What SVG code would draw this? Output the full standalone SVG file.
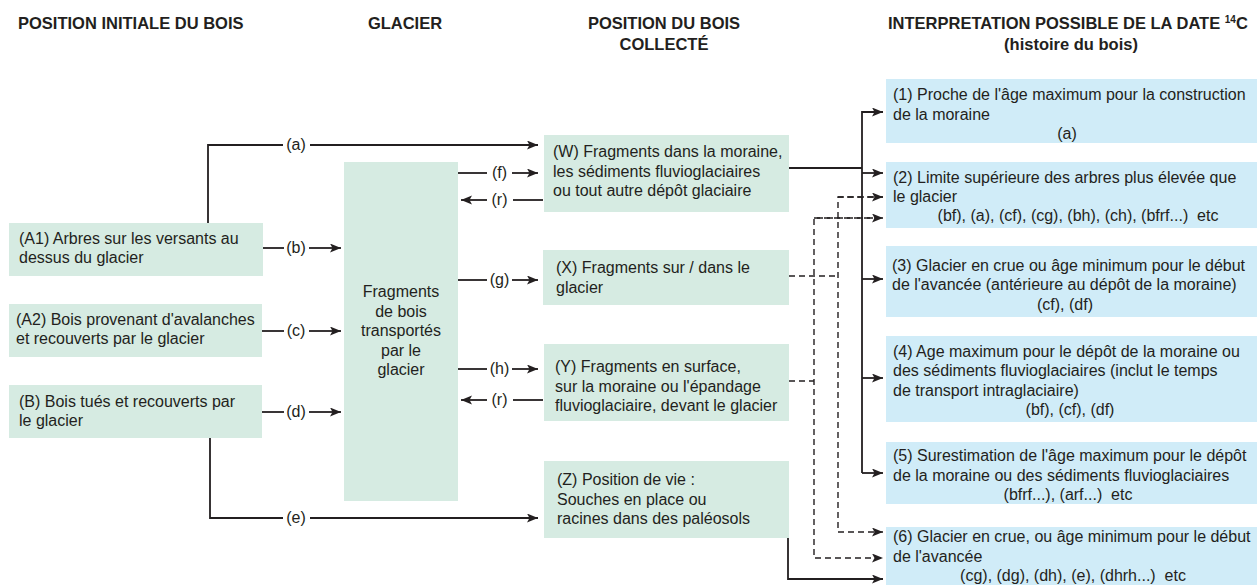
<svg xmlns="http://www.w3.org/2000/svg" width="1257" height="585" viewBox="0 0 1257 585">
<style>
text{font-family:"Liberation Sans",Arial,sans-serif;font-size:16px;fill:#231f20}
.h{font-weight:bold;font-size:16.5px}
.m{text-anchor:middle}
.g{fill:#d6ebe2}
.b{fill:#d0ecf8}
.s{fill:none;stroke:#231f20;stroke-width:1.8}
.d{fill:none;stroke:#231f20;stroke-width:1.4;stroke-dasharray:6 4}
</style>
<defs>
<marker id="ar" markerUnits="userSpaceOnUse" markerWidth="12" markerHeight="10" refX="11" refY="4.5" orient="auto">
<path d="M0,0 L11,4.5 L0,9 L2.5,4.5 Z" fill="#231f20"/>
</marker>
</defs>
<rect width="1257" height="585" fill="#fff"/>
<g id="headers">
<text class="h" x="18" y="29">POSITION INITIALE DU BOIS</text>
<text class="h m" x="405" y="29">GLACIER</text>
<text class="h m" x="664" y="29">POSITION DU BOIS</text>
<text class="h m" x="664" y="50">COLLECTÉ</text>
<text class="h" x="888" y="29">INTERPRETATION POSSIBLE DE LA DATE <tspan font-size="10" dy="-6">14</tspan><tspan dy="6">C</tspan></text>
<text class="h m" x="1071" y="50">(histoire du bois)</text>
</g>
<g id="A1"><rect class="g" x="9" y="223" width="254" height="53"/>
<text x="19" y="244">(A1) Arbres sur les versants au</text><text x="19" y="263">dessus du glacier</text></g>
<g id="A2"><rect class="g" x="9" y="304" width="253" height="53"/>
<text x="16" y="325">(A2) Bois provenant d'avalanches</text><text x="16" y="344">et recouverts par le glacier</text></g>
<g id="B"><rect class="g" x="9" y="385" width="253" height="53"/>
<text x="19" y="407">(B) Bois tués et recouverts par</text><text x="19" y="426">le glacier</text></g>
<g id="glacier"><rect class="g" x="344" y="162" width="114" height="339"/>
<text class="m" x="401" y="297">Fragments</text><text class="m" x="401" y="316.5">de bois</text><text class="m" x="401" y="336">transportés</text><text class="m" x="401" y="355.5">par le</text><text class="m" x="401" y="375">glacier</text></g>
<g id="W"><rect class="g" x="544" y="135" width="245" height="77"/>
<text x="553" y="157">(W) Fragments dans la moraine,</text><text x="553" y="176.5">les sédiments fluvioglaciaires</text><text x="553" y="196">ou tout autre dépôt glaciaire</text></g>
<g id="X"><rect class="g" x="543" y="250" width="246" height="55"/>
<text x="556" y="273">(X) Fragments sur / dans le</text><text x="556" y="292.5">glacier</text></g>
<g id="Y"><rect class="g" x="544" y="344" width="245" height="77"/>
<text x="555" y="372">(Y) Fragments en surface,</text><text x="555" y="391.5">sur la moraine ou l'épandage</text><text x="555" y="411">fluvioglaciaire, devant le glacier</text></g>
<g id="Z"><rect class="g" x="544" y="461" width="245" height="77"/>
<text x="557" y="485">(Z) Position de vie :</text><text x="557" y="504.5">Souches en place ou</text><text x="557" y="524">racines dans des paléosols</text></g>
<g id="R1"><rect class="b" x="886" y="79" width="371" height="64"/>
<text x="893" y="100">(1) Proche de l'âge maximum pour la construction</text><text x="893" y="119.5">de la moraine</text><text class="m" x="1067" y="138.5">(a)</text></g>
<g id="R2"><rect class="b" x="886" y="162" width="371" height="66"/>
<text x="893" y="182.5">(2) Limite supérieure des arbres plus élevée que</text><text x="893" y="201.5">le glacier</text><text class="m" x="1078" y="220.5" xml:space="preserve">(bf), (a), (cf), (cg), (bh), (ch), (bfrf...)  etc</text></g>
<g id="R3"><rect class="b" x="886" y="246" width="371" height="71"/>
<text x="892" y="270.5">(3) Glacier en crue ou âge minimum pour le début</text><text x="892" y="290">de l'avancée (antérieure au dépôt de la moraine)</text><text class="m" x="1065" y="309.5">(cf), (df)</text></g>
<g id="R4"><rect class="b" x="886" y="336" width="371" height="86"/>
<text x="893" y="356.5">(4) Age maximum pour le dépôt de la moraine ou</text><text x="893" y="376">des sédiments fluvioglaciaires (inclut le temps</text><text x="893" y="395.5">de transport intraglaciaire)</text><text class="m" x="1070" y="415">(bf), (cf), (df)</text></g>
<g id="R5"><rect class="b" x="886" y="442" width="371" height="62"/>
<text x="893" y="461">(5) Surestimation de l'âge maximum pour le dépôt</text><text x="893" y="480.5">de la moraine ou des sédiments fluvioglaciaires</text><text class="m" x="1068" y="499.5" xml:space="preserve">(bfrf...), (arf...)  etc</text></g>
<g id="R6"><rect class="b" x="886" y="527" width="371" height="60"/>
<text x="893" y="542">(6) Glacier en crue, ou âge minimum pour le début</text><text x="893" y="561.5">de l'avancée</text><text class="m" x="1073" y="581" xml:space="preserve">(cg), (dg), (dh), (e), (dhrh...)  etc</text></g>
<g id="connectors">
<path class="s" d="M208,223 V145 H283"/><path class="s" d="M310,145 H538" marker-end="url(#ar)"/><text class="m" x="296" y="150">(a)</text>
<path class="s" d="M263,248 H284"/><path class="s" d="M309,248 H341" marker-end="url(#ar)"/><text class="m" x="296" y="253">(b)</text>
<path class="s" d="M262,331 H284"/><path class="s" d="M309,331 H341" marker-end="url(#ar)"/><text class="m" x="296" y="336">(c)</text>
<path class="s" d="M262,412 H284"/><path class="s" d="M309,412 H341" marker-end="url(#ar)"/><text class="m" x="296" y="417">(d)</text>
<path class="s" d="M210,438 V518 H283"/><path class="s" d="M310,518 H538" marker-end="url(#ar)"/><text class="m" x="296" y="523">(e)</text>
<path class="s" d="M458,173 H487"/><path class="s" d="M512,173 H538" marker-end="url(#ar)"/><text class="m" x="499.5" y="178">(f)</text>
<path class="s" d="M543,200 H513"/><path class="s" d="M487,200 H461" marker-end="url(#ar)"/><text class="m" x="499.5" y="205">(r)</text>
<path class="s" d="M458,280 H487"/><path class="s" d="M512,280 H538" marker-end="url(#ar)"/><text class="m" x="499.5" y="285">(g)</text>
<path class="s" d="M458,369 H487"/><path class="s" d="M512,369 H538" marker-end="url(#ar)"/><text class="m" x="499.5" y="374">(h)</text>
<path class="s" d="M543,400 H513"/><path class="s" d="M487,400 H461" marker-end="url(#ar)"/><text class="m" x="499.5" y="405">(r)</text>
<path class="s" d="M789,168 H862"/>
<path class="s" d="M883,112 H862 V473"/>
<path class="s" d="M862,112 H883" marker-end="url(#ar)"/>
<path class="s" d="M862,173 H883" marker-end="url(#ar)"/>
<path class="s" d="M862,279 H883" marker-end="url(#ar)"/>
<path class="s" d="M862,378 H883" marker-end="url(#ar)"/>
<path class="s" d="M862,473 H883" marker-end="url(#ar)"/>
<path class="d" d="M789,276 H838"/>
<path class="d" d="M883,197 H838 V532 H883" marker-end="url(#ar)"/>
<path class="d" d="M838,197 H883" marker-end="url(#ar)"/>
<path class="d" d="M789,381 H814"/>
<path class="d" d="M883,218 H814 V558 H883" marker-end="url(#ar)"/>
<path class="d" d="M814,218 H883" marker-end="url(#ar)"/>
<path class="s" d="M788,538 V579 H883" marker-end="url(#ar)"/>
</g>
</svg>
